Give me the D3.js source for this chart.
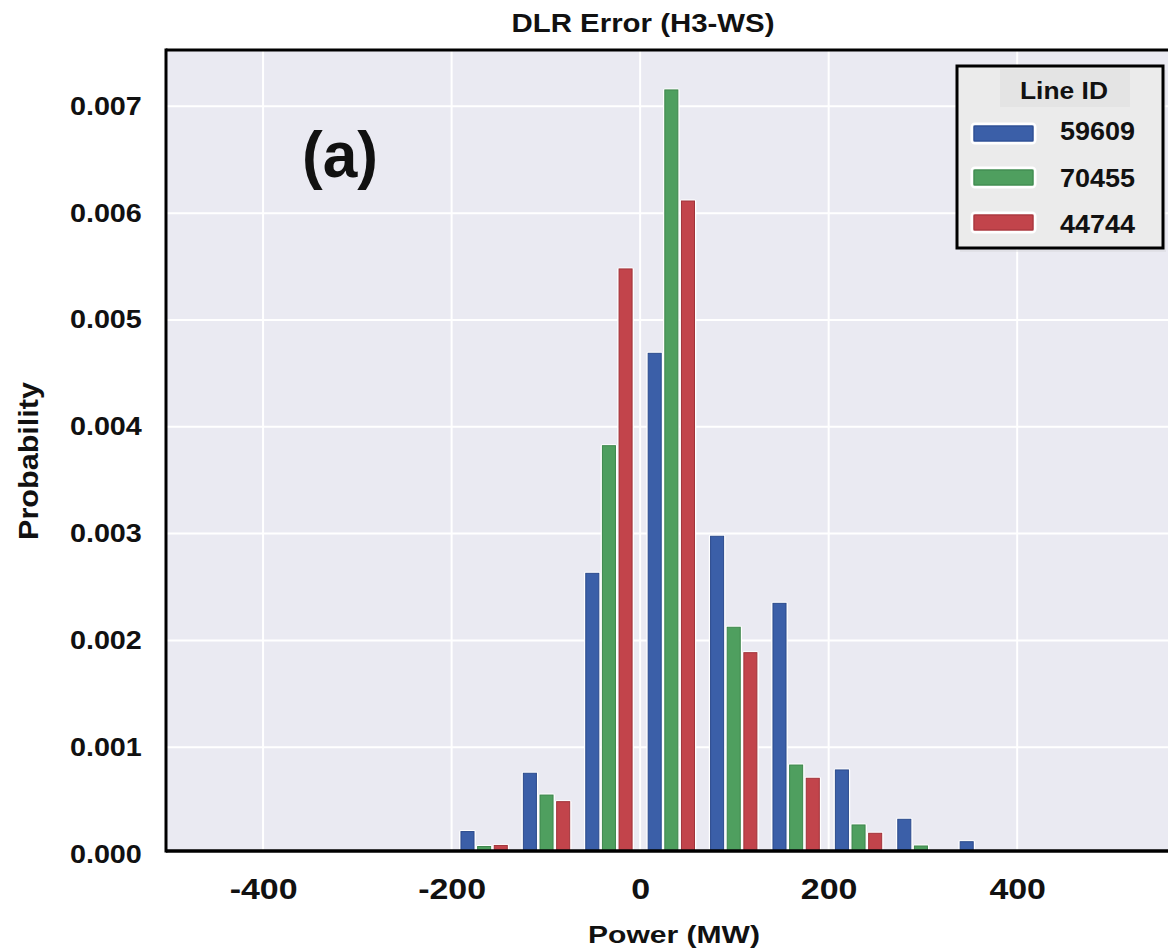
<!DOCTYPE html>
<html>
<head>
<meta charset="utf-8">
<script src="https://cdn.jsdelivr.net/npm/d3@7"></script>
<style>
  body { margin: 0; background: #ffffff; }
  text { font-family: "Liberation Sans", Arial, Helvetica, sans-serif; font-weight: bold; fill: #111; }
</style>
</head>
<body>
<svg id="chart" width="1168" height="951"></svg>
<script>
// ---------------- data ----------------
const binCenters = [-165.5, -99.3, -33.1, 33.1, 99.3, 165.5, 231.7, 297.9, 364.1, 430.3]; // MW
const binWidth = 66.2; // MW
const seriesNames = ["59609", "70455", "44744"];
const s59609 = [0.00021, 0.000756, 0.002628, 0.004688, 0.002975, 0.002347, 0.000787, 0.000325, 0.000115, 0.00002];
const s70455 = [0.00007, 0.000552, 0.003823, 0.007154, 0.002123, 0.000833, 0.000272, 0.000075, 0, 0];
const s44744 = [0.00008, 0.00049, 0.005478, 0.006114, 0.001885, 0.000709, 0.000194, 0, 0, 0];
const xTicks = [-400, -200, 0, 200, 400];
const xTickLabels = ["-400", "-200", "0", "200", "400"];
const yTicks = [0, 0.001, 0.002, 0.003, 0.004, 0.005, 0.006, 0.007];
const yTickLabels = ["0.000", "0.001", "0.002", "0.003", "0.004", "0.005", "0.006", "0.007"];
const titleText = "DLR Error (H3-WS)";
const xTitle = "Power (MW)";
const yTitle = "Probability";
const panelLabel = "(a)";
const legendTitle = "Line ID";

const seriesValues = [s59609, s70455, s44744];
const colors = ["#3b5fa8", "#4f9f5f", "#c2444b"];
const edgeColors = ["#2b4a8c", "#3d864c", "#a0333a"];

// ---------------- layout ----------------
const svg = d3.select("#chart");
const L = 166, R = 1168, T = 50, B = 851;

const x = d3.scaleLinear().domain([-503, 560]).range([L, R]);
const y = d3.scaleLinear().domain([0, 0.00754]).range([854, 48.7]);

// plot background
svg.append("rect").attr("x", L).attr("y", T).attr("width", R - L).attr("height", B - T).attr("fill", "#eaeaf2");

// grid
svg.append("g").selectAll("line").data(xTicks).join("line")
  .attr("x1", d => x(d)).attr("x2", d => x(d)).attr("y1", T).attr("y2", B)
  .attr("stroke", "#ffffff").attr("stroke-width", 2);
svg.append("g").selectAll("line").data(yTicks.filter(d => d > 0)).join("line")
  .attr("x1", L).attr("x2", R).attr("y1", d => y(d)).attr("y2", d => y(d))
  .attr("stroke", "#ffffff").attr("stroke-width", 2);

// bars (dodged, shrink 0.8)
const barW = binWidth * 0.8 / 3; // MW
const barPx = x(barW) - x(0);
const barsG = svg.append("g");
seriesValues.forEach((vals, si) => {
  const data = binCenters.map((c, i) => ({ c, v: vals[i] })).filter(d => d.v > 0);
  const cx = d => x(d.c + (si - 1) * barW);
  // white halo
  barsG.append("g").selectAll("rect").data(data).join("rect")
    .attr("x", d => cx(d) - barPx / 2)
    .attr("y", d => y(d.v) - 1.5)
    .attr("width", barPx)
    .attr("height", d => B - y(d.v) + 1.5)
    .attr("rx", 2)
    .attr("fill", "#ffffff");
  barsG.append("g").selectAll("rect").data(data).join("rect")
    .attr("x", d => cx(d) - barPx / 2 + 1.8)
    .attr("y", d => y(d.v))
    .attr("width", barPx - 3.6)
    .attr("height", d => Math.max(0, B - y(d.v)))
    .attr("fill", colors[si])
    .attr("stroke", edgeColors[si])
    .attr("stroke-width", 1);
});

// frame
svg.append("line").attr("x1", L).attr("x2", R).attr("y1", T).attr("y2", T).attr("stroke", "#000").attr("stroke-width", 3);
svg.append("line").attr("x1", L).attr("x2", R).attr("y1", B).attr("y2", B).attr("stroke", "#000").attr("stroke-width", 3.5);
svg.append("line").attr("x1", L).attr("x2", L).attr("y1", T - 1.5).attr("y2", B + 1.5).attr("stroke", "#000").attr("stroke-width", 3);

// axes
const xAxis = d3.axisBottom(x).tickValues(xTicks).tickFormat((d, i) => xTickLabels[i]).tickSize(0).tickPadding(27);
const gx = svg.append("g").attr("transform", `translate(0,${B})`).call(xAxis);
gx.select(".domain").remove();
gx.selectAll("text").style("font-size", "29px").attr("fill", "#111")
  .attr("transform", "scale(1.17,1)");

const yAxis = d3.axisLeft(y).tickValues(yTicks).tickFormat((d, i) => yTickLabels[i]).tickSize(0).tickPadding(21);
const gy = svg.append("g").attr("transform", `translate(${L},0)`).call(yAxis);
gy.select(".domain").remove();
gy.selectAll("text").style("font-size", "25px").attr("fill", "#111")
  .attr("transform", "scale(1.15,1)");

// titles
svg.append("text").attr("x", 643).attr("y", 32).attr("text-anchor", "middle")
  .style("font-size", "25px").attr("textLength", 263).attr("lengthAdjust", "spacingAndGlyphs").text(titleText);
svg.append("text").attr("x", 674).attr("y", 943).attr("text-anchor", "middle")
  .style("font-size", "24px").attr("textLength", 172).attr("lengthAdjust", "spacingAndGlyphs").text(xTitle);
svg.append("text").attr("transform", "translate(38,461) rotate(-90)").attr("text-anchor", "middle")
  .style("font-size", "27px").attr("textLength", 158).attr("lengthAdjust", "spacingAndGlyphs").text(yTitle);
svg.append("text").attr("x", 340).attr("y", 177).attr("text-anchor", "middle")
  .style("font-size", "64px").attr("textLength", 76).attr("lengthAdjust", "spacingAndGlyphs").text(panelLabel);

// legend
const lg = svg.append("g");
lg.append("rect").attr("x", 960).attr("y", 70).attr("width", 206).attr("height", 182).attr("fill", "#d8d8dc").attr("opacity", 0.5);
lg.append("rect").attr("x", 957).attr("y", 66).attr("width", 206).attr("height", 182)
  .attr("fill", "#ebebeb").attr("stroke", "#000").attr("stroke-width", 3);
lg.append("rect").attr("x", 1000).attr("y", 69).attr("width", 130).attr("height", 38).attr("fill", "#e4e4e4");
lg.append("text").attr("x", 1064).attr("y", 99).attr("text-anchor", "middle")
  .style("font-size", "24px").attr("textLength", 88).attr("lengthAdjust", "spacingAndGlyphs").text(legendTitle);
const swY = [124, 168, 213];
const lblY = [140, 187, 233];
seriesNames.forEach((name, i) => {
  lg.append("rect").attr("x", 972).attr("y", swY[i]).attr("width", 63).attr("height", 19).attr("rx", 3)
    .attr("fill", colors[i]).attr("stroke", "#ffffff").attr("stroke-width", 3);
  lg.append("rect").attr("x", 974).attr("y", swY[i] + 2).attr("width", 59).attr("height", 15)
    .attr("fill", "none").attr("stroke", edgeColors[i]).attr("stroke-width", 1);
  lg.append("text").attr("x", 1060).attr("y", lblY[i])
    .style("font-size", "25px").attr("textLength", 75).attr("lengthAdjust", "spacingAndGlyphs").text(name);
});
</script>
</body>
</html>
